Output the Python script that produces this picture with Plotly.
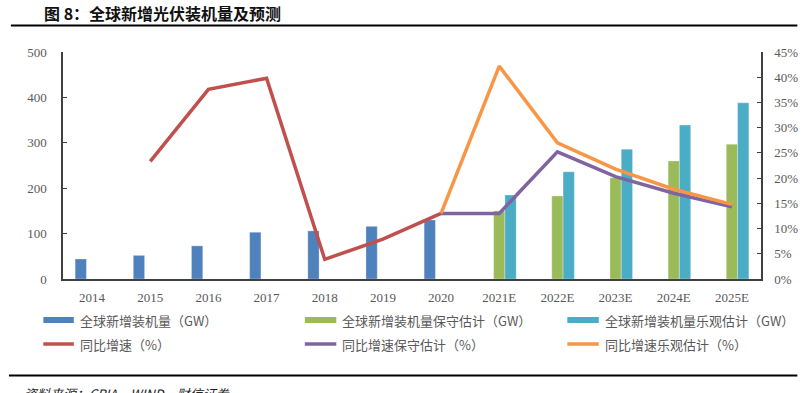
import plotly.graph_objects as go

categories = ["2014", "2015", "2016", "2017", "2018", "2019", "2020",
              "2021E", "2022E", "2023E", "2024E", "2025E"]
installed_gw = [44, 52, 73, 103, 106, 116, 130, None, None, None, None, None]
conservative_gw = [None, None, None, None, None, None, None, 150, 183, 223, 260, 297]
optimistic_gw = [None, None, None, None, None, None, None, 185, 236, 286, 339, 388]
yoy_growth = [None, 0.233, 0.376, 0.398, 0.039, 0.079, 0.13, None, None, None, None, None]
yoy_conservative = [None, None, None, None, None, None, 0.13, 0.13, 0.252, 0.203, 0.17, 0.143]
yoy_optimistic = [None, None, None, None, None, None, 0.13, 0.422, 0.27, 0.218, 0.178, 0.148]

names = ["全球新增装机量（GW）", "全球新增装机量保守估计（GW）", "全球新增装机量乐观估计（GW）",
         "同比增速（%）", "同比增速保守估计（%）", "同比增速乐观估计（%）"]
colors = ["#4F81BD", "#9BBB59", "#4BACC6", "#C0504D", "#8064A2", "#F79646"]

W, H = 810, 393
ML, MR, MT, MB = 63, 37, 52, 114
PW, PH = W - ML - MR, H - MT - MB


def px(x):
    return (x - ML) / PW


def py(y):
    return (H - MB - y) / PH


fig = go.Figure()
for vals, nm, c in zip([installed_gw, conservative_gw, optimistic_gw], names[:3], colors[:3]):
    fig.add_trace(go.Bar(x=categories, y=vals, name=nm, marker_color=c,
                         marker_line_width=0.6, marker_line_color="rgba(255,255,255,0.5)",
                         yaxis="y", showlegend=False))
for vals, nm, c in zip([yoy_growth, yoy_conservative, yoy_optimistic], names[3:], colors[3:]):
    fig.add_trace(go.Scatter(x=categories, y=vals, name=nm, mode="lines",
                             line=dict(color=c, width=3.5), yaxis="y2",
                             showlegend=False, connectgaps=False))

tickfont = dict(family="Liberation Serif, Times New Roman, serif", size=13, color="#595959")
fig.update_layout(
    width=W, height=H,
    margin=dict(l=ML, r=MR, t=MT, b=MB),
    paper_bgcolor="white", plot_bgcolor="white",
    barmode="group", bargap=0.417, bargroupgap=0,
    xaxis=dict(type="category", showline=True, linecolor="#404040", linewidth=1.5,
               ticks="", tickfont=tickfont, showgrid=False, zeroline=False,
               ticklabelstandoff=6),
    yaxis=dict(range=[0, 500], dtick=100, showline=True, linecolor="#404040", linewidth=1.5,
               ticks="inside", ticklen=4, tickcolor="#404040", tickfont=tickfont,
               showgrid=False, zeroline=False, ticklabelstandoff=12),
    yaxis2=dict(range=[0, 0.45], dtick=0.05, tickformat=".0%", overlaying="y", side="right",
                showline=True, linecolor="#404040", linewidth=1.5, ticks="inside", ticklen=4,
                tickcolor="#404040", tickfont=tickfont, showgrid=False, zeroline=False,
                ticklabelstandoff=9),
    showlegend=False,
)

shapes = []
annotations = []
# title rule and bottom rule
shapes.append(dict(type="line", xref="paper", yref="paper", x0=px(10), x1=px(810),
                   y0=py(25.5), y1=py(25.5), line=dict(color="black", width=2)))
shapes.append(dict(type="line", xref="paper", yref="paper", x0=px(8), x1=px(810),
                   y0=py(375.5), y1=py(375.5), line=dict(color="black", width=2)))
annotations.append(dict(text="<b>图 8：全球新增光伏装机量及预测</b>", xref="paper", yref="paper",
                        x=px(42), y=py(13), xanchor="left", yanchor="middle", showarrow=False,
                        font=dict(family="Noto Sans CJK SC", size=16, color="#111111")))
annotations.append(dict(text="<i>资料来源：CPIA，WIND，财信证券</i>", xref="paper", yref="paper",
                        x=px(21), y=py(382), xanchor="left", yanchor="top", showarrow=False,
                        font=dict(family="Noto Sans CJK SC", size=13, color="#222222")))

# manual legend
sym_x = [(43, 74), (309, 341), (576, 608)]
text_x = [78, 345, 612]
rows = [320, 344]
for i, (nm, c) in enumerate(zip(names, colors)):
    r, col = divmod(i, 3)
    x0, x1 = sym_x[col]
    yc = rows[r]
    if r == 0:
        shapes.append(dict(type="rect", xref="paper", yref="paper", x0=px(x0), x1=px(x1),
                           y0=py(yc - 3), y1=py(yc + 3), fillcolor=c, line=dict(width=0)))
    else:
        shapes.append(dict(type="line", xref="paper", yref="paper", x0=px(x0), x1=px(x1),
                           y0=py(yc), y1=py(yc), line=dict(color=c, width=3.5)))
    annotations.append(dict(text=nm, xref="paper", yref="paper", x=px(text_x[col]), y=py(yc),
                            xanchor="left", yanchor="middle", showarrow=False,
                            font=dict(family="Noto Sans CJK SC", size=13, color="#595959")))

fig.update_layout(shapes=shapes, annotations=annotations)
fig.write_html("out.html", config={"displayModeBar": False},
               post_script="document.body.style.margin='0';document.body.style.overflow='hidden';")
